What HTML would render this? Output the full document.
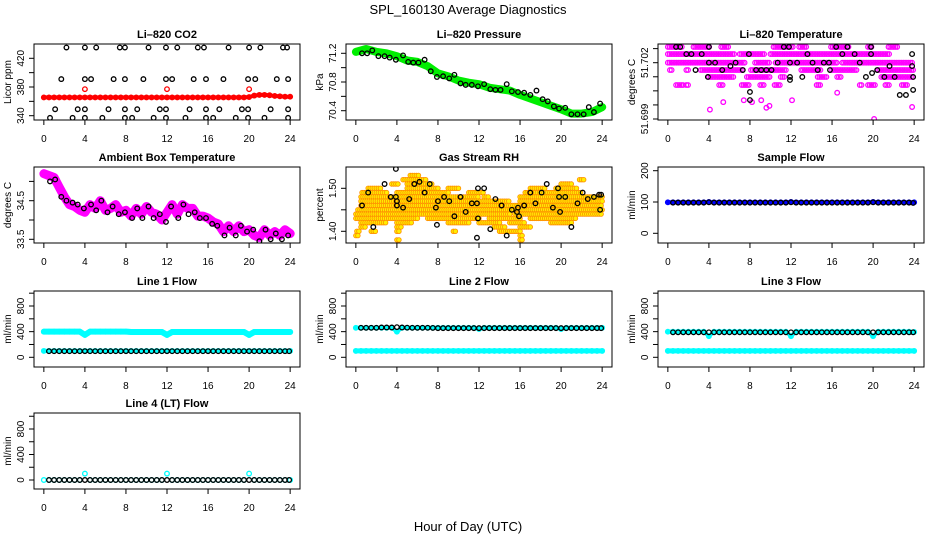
<!DOCTYPE html>
<html><head><meta charset="utf-8"><style>
html,body{margin:0;padding:0;background:#fff;}
svg{display:block;font-family:"Liberation Sans",sans-serif;}
</style></head><body>
<svg id="c" width="936" height="540" viewBox="0 0 936 540">
<text x="468" y="14" text-anchor="middle" font-size="13">SPL_160130  Average Diagnostics</text>
<text x="468" y="531" text-anchor="middle" font-size="13">Hour of Day (UTC)</text>
</svg>
<script>
// ---------- data ----------
const halfHours = [0,0.5,1,1.5,2,2.5,3,3.5,4,4.5,5,5.5,6,6.5,7,7.5,8,8.5,9,9.5,10,10.5,11,11.5,12,12.5,13,13.5,14,14.5,15,15.5,16,16.5,17,17.5,18,18.5,19,19.5,20,20.5,21,21.5,22,22.5,23,23.5,24];
const blackHours = [0.5,1,1.5,2,2.5,3,3.5,4,4.5,5,5.5,6,6.5,7,7.5,8,8.5,9,9.5,10,10.5,11,11.5,12,12.5,13,13.5,14,14.5,15,15.5,16,16.5,17,17.5,18,18.5,19,19.5,20,20.5,21,21.5,22,22.5,23,23.5,23.9];

// CO2
const co2Band = [365.5,365.5,365.5,365.5,365.5,365.5,365.5,365.5,365.5,365.5,365.5,365.5,365.5,365.5,365.5,365.5,365.5,365.5,365.5,365.5,365.5,365.5,365.5,365.5,365.5,365.5,365.5,365.5,365.5,365.5,365.5,365.5,365.5,365.5,365.5,365.5,365.5,365.5,365.5,365.5,366,368,369,369,368.5,367.5,367,366.5,366.5];
const co2RedOutHours = [4,12,20];
const co2RedOutVals = [377,377,377];
const co2BlackHours = [2.2,4,5.1,7.4,7.9,10.2,11.9,13,15,15.6,18,20,21.1,23.3,23.7, 1.7,4,4.6,6.8,7.9,9.7,11.9,12.5,14.6,15.8,17.5,19.9,20.6,22.7,23.8, 1.1,3.3,4,6.3,7.9,9.1,11.3,11.9,14.2,15.8,17.1,19.3,19.9,22.1,23.8, 0.6,2.8,4,5.7,7.9,8.6,10.7,11.9,13.8,15.8,16.5,18.7,19.9,21.5,23.8];
const co2BlackVals = [435,435,435,435,435,435,435,435,435,435,435,435,435,435,435, 391,391,391,391,391,391,391,391,391,391,391,391,391,391,391, 349,349,349,349,349,349,349,349,349,349,349,349,349,349,349, 337,337,337,337,337,337,337,337,337,337,337,337,337,337,337];

// Pressure
const presBandHours = [0,1,2,3,4,5,6,7,8,9,10,11,12,13,14,15,16,17,18,19,20,21,22,23,24];
const presBand = [71.22,71.26,71.22,71.2,71.16,71.1,71.08,71.02,70.92,70.88,70.82,70.79,70.77,70.72,70.7,70.68,70.62,70.57,70.52,70.47,70.42,70.36,70.36,70.38,70.45];
const presBlackHours = [0.6,1.1,1.6,2.2,2.8,3.3,3.9,4.6,5.1,5.6,6.1,6.7,7.3,7.9,8.5,9.1,9.6,10.2,10.7,11.3,11.9,12.5,13.1,13.6,14.1,14.7,15.2,15.8,16.4,17.0,17.6,18.2,18.7,19.3,19.8,20.4,21.0,21.6,22.2,22.7,23.2,23.8];
const presBlackVals = [71.2,71.2,71.24,71.16,71.16,71.14,71.11,71.17,71.08,71.07,71.07,71.11,70.95,70.87,70.88,70.85,70.9,70.78,70.76,70.76,70.74,70.77,70.7,70.69,70.69,70.77,70.67,70.66,70.65,70.62,70.68,70.56,70.53,70.46,70.43,70.44,70.35,70.35,70.35,70.45,70.38,70.5];

// Li-820 temperature (magenta runs: start hour, end hour, value)
const tempRunStart = [0,2.5,5.2,10.3,12.8,15.9,19.5,21.5, 0,7,10, 0,8.5,10.5,17, 0.2,1.8,3.2,8.1,13,16,20.5, 4,7.7,11,14.6,16.5,20.8, 0.8,1.8,5,7.2,9,10.4,14.5,18.7,19.5,21.2,22.8];
const tempRunEnd   = [1.4,4.1,5.9,12.3,13.6,17.6,19.9,22.5, 6.5,9.5,21.7, 7.5,10,16.5,23.8, 0.5,2,7.4,11.5,15,18.5,24, 6.5,10,11.5,15.5,17,24, 1.5,2,5.5,8,9.5,11,15,19,20.3,21.6,23.4];
const tempRunVal   = [51.70284,51.70284,51.70284,51.70284,51.70284,51.70284,51.70284,51.70284, 51.70246,51.70246,51.70246, 51.702,51.702,51.702,51.702, 51.70161,51.70161,51.70161,51.70161,51.70161,51.70161,51.70161, 51.70124,51.70124,51.70124,51.70124,51.70124,51.70124, 51.70081,51.70081,51.70081,51.70081,51.70081,51.70081,51.70081,51.70081,51.70081,51.70081,51.70081];
const tempMagHours = [4.1,5.4,7.4,9.6,9.9,20.1,23.8,16.5,12.1,8.2,9.1];
const tempMagVals = [51.6995,51.6999,51.7,51.6996,51.6997,51.699,51.69964,51.7004,51.7,51.6999,51.7];
const tempBlackHours = [0.8,1.2,1.8,2.3,2.7,3.3,3.9,4,4,4.6,5.3,6.1,6.6,7.3,7.9,8,8,8.6,9.1,9.6,10.1,10.7,11.3,11.8,11.9,11.9,11.9,12.6,13.1,13.6,14.1,14.6,15.2,15.7,15.8,16.4,17,17.5,18.2,18.7,19.3,19.8,19.8,19.9,20.4,21.1,21.6,22.1,22.6,23.2,23.8,23.8,23.9,23.9];
const tempBlackVals = [51.70284,51.70284,51.70246,51.70246,51.70161,51.70246,51.70124,51.70284,51.702,51.702,51.70161,51.70182,51.702,51.70161,51.70246,51.70044,51.70001,51.70161,51.70161,51.70161,51.70161,51.702,51.70284,51.70284,51.70124,51.70108,51.702,51.702,51.70124,51.70246,51.702,51.70161,51.702,51.702,51.70161,51.70284,51.70246,51.70284,51.70246,51.702,51.70124,51.70284,51.70246,51.70145,51.70161,51.70124,51.70182,51.70124,51.70028,51.70028,51.70246,51.70182,51.70124,51.70055];

// Ambient box temperature
const ambBand = [35.2,35.15,35.1,34.85,34.6,34.4,34.35,34.25,34.2,34.4,34.3,34.5,34.25,34.3,34.4,34.2,34.25,34.1,34.3,34.15,34.35,34.2,34.15,34.0,34.2,34.4,34.15,34.4,34.3,34.3,34.1,34.1,34.05,33.95,33.9,33.7,33.85,33.7,33.85,33.7,33.75,33.6,33.55,33.75,33.6,33.7,33.6,33.75,33.65];
const ambBlackHours = [0.6,1.1,1.7,2.2,2.8,3.3,3.9,4.6,5.1,5.6,6.2,6.7,7.3,7.9,8.6,9.1,9.6,10.2,10.7,11.3,11.9,12.4,13.1,13.6,14.1,14.7,15.2,15.8,16.4,16.9,17.6,18.1,18.7,19.2,19.8,20.4,21,21.6,22.1,22.6,23.2,23.8];
const ambBlackVals = [35.0,35.05,34.6,34.5,34.45,34.4,34.3,34.4,34.25,34.5,34.2,34.35,34.15,34.2,34.05,34.3,34.05,34.35,34.05,34.15,33.95,34.35,34.05,34.4,34.15,34.2,34.05,34.05,33.9,33.85,33.6,33.8,33.6,33.85,33.7,33.75,33.45,33.75,33.5,33.65,33.5,33.6];

// Gas stream RH (orange runs)
const rhRunStart = [5.3, 4.6,21.8, 3.5,5,20, 1.2,5,9,17,19.5, 0.6,4,11,16.5, 0.5,12.5,16, 0.5,16, 0.5, 0.2, 0,15.5, 0,7,13,17, 0.5,4,9,12,15,19, 0.5,4,13.5,16, 0.1,1.5,4,9.5,14, 0,16, 4,16];
const rhRunEnd   = [6.2, 6.8,22.3, 4.2,7.5,21, 2.5,8,10,18.5,21.5, 3,9,12.5,22, 12,13,24, 15,24, 24, 24, 15,24, 6,12,16,21.5, 3,5.5,11,14,16.5,21, 1,4.5,14.5,17, 0.3,2,4.2,9.8,16, 0.2,16.3, 4.3,16.3];
const rhRunVal   = [1.53, 1.52,1.52, 1.51,1.51,1.51, 1.50,1.50,1.50,1.50,1.50, 1.49,1.49,1.49,1.49, 1.48,1.48,1.48, 1.47,1.47, 1.46, 1.45, 1.44,1.44, 1.43,1.43,1.43,1.43, 1.42,1.42,1.42,1.42,1.42,1.42, 1.41,1.41,1.41,1.41, 1.40,1.40,1.40,1.40,1.40, 1.39,1.39, 1.38,1.38];
const rhBlackHours = [0.6,1.2,1.7,2.8,3.4,3.9,3.9,4,4,4.6,5.2,5.7,6.2,6.7,7.2,7.8,7.9,8,8.6,9.1,9.6,10.2,10.7,11.3,11.8,11.9,11.9,11.8,12.5,13.1,13.6,14.2,14.7,15.2,15.7,15.8,15.9,16.4,17.0,17.5,18.1,18.6,19.2,19.7,19.8,19.9,20.4,21.0,21.6,22.1,22.6,23.2,23.7,23.8,23.9];
const rhBlackVals = [1.46,1.49,1.41,1.51,1.48,1.545,1.48,1.47,1.46,1.455,1.475,1.51,1.515,1.49,1.51,1.455,1.415,1.47,1.48,1.47,1.435,1.48,1.445,1.465,1.465,1.43,1.50,1.385,1.50,1.405,1.475,1.46,1.39,1.45,1.445,1.455,1.435,1.46,1.49,1.465,1.49,1.51,1.455,1.50,1.48,1.445,1.48,1.41,1.465,1.49,1.475,1.48,1.485,1.45,1.485];

// Sample flow
const sampleBand = [99,99,99,99,99,99,99,99,100,99,99,99,99,99,99,99,99,99,99,99,99,99,99,99,100,99,99,99,99,99,99,99,99,99,99,99,99,99,99,99,100,99,99,99,99,99,99,99,99];
const sampleBlack = [98,98,98,98,98,98,98,99,98,98,98,98,98,98,98,98,98,98,98,98,98,98,98,99,98,98,98,98,98,98,98,98,98,98,98,98,98,98,98,99,98,98,98,98,98,98,98,97];

// Line flows (cyan bands on halfHours, black on blackHours)
const line1CyanHi = [400,400,400,400,400,400,400,400,350,400,400,400,400,400,400,400,400,395,395,395,395,395,395,395,350,395,395,395,395,395,395,395,395,395,395,395,395,395,395,395,350,395,395,395,395,395,395,395,395];
const line1CyanLo = [100,100,100,100,100,100,100,100,100,100,100,100,100,100,100,100,100,100,100,100,100,100,100,100,100,100,100,100,100,100,100,100,100,100,100,100,100,100,100,100,100,100,100,100,100,100,100,100,100];
const line1Black  = [95,95,95,95,95,95,95,96,95,95,95,95,95,95,95,96,95,95,95,95,95,95,95,96,95,95,95,95,95,95,95,96,95,95,95,95,95,95,95,96,95,95,95,95,95,95,95,95];
const line2CyanHi = [460,460,460,460,460,460,460,460,400,460,460,460,460,460,460,460,460,460,460,460,460,460,460,460,440,460,460,460,460,460,460,460,460,460,460,460,460,460,460,460,440,460,460,460,460,460,460,460,460];
const line2CyanLo = [100,100,100,100,100,100,100,100,100,100,100,100,100,100,100,100,100,100,100,100,100,100,100,100,100,100,100,100,100,100,100,100,100,100,100,100,100,100,100,100,100,100,100,100,100,100,100,100,100];
const line2Black  = [460,460,460,460,465,465,465,470,465,462,460,460,460,460,458,455,455,455,455,455,455,455,455,455,455,455,455,455,455,455,455,455,455,455,455,455,455,455,455,455,455,455,455,455,455,455,455,455];
const line3CyanHi = [400,400,400,400,400,400,400,400,330,400,400,400,400,400,400,400,400,400,400,400,400,400,400,400,330,400,400,400,400,400,400,400,400,400,400,400,400,400,400,400,330,400,400,400,400,400,400,400,395];
const line3CyanLo = [100,100,100,100,100,100,100,100,100,100,100,100,100,100,100,100,100,100,100,100,100,100,100,100,100,100,100,100,100,100,100,100,100,100,100,100,100,100,100,100,100,100,100,100,100,100,100,100,100];
const line3Black  = [390,390,390,390,390,390,390,390,390,390,390,390,390,390,390,390,390,390,390,390,390,390,390,390,390,390,390,390,390,390,390,390,390,390,390,390,390,390,390,390,390,390,390,390,390,390,390,390];
const line4Cyan   = [0,0,0,0,0,0,0,0,100,0,0,0,0,0,0,0,0,0,0,0,0,0,0,0,100,0,0,0,0,0,0,0,0,0,0,0,0,0,0,0,100,0,0,0,0,0,0,0,0];
const line4Black  = [0,0,0,0,0,0,0,0,0,0,0,0,0,0,0,0,0,0,0,0,0,0,0,0,0,0,0,0,0,0,0,0,0,0,0,0,0,0,0,0,0,0,0,0,0,0,0,0];

const xTicks = [0,4,8,12,16,20,24];

// ---------- drawing ----------
const svg = document.getElementById('c');
const NS = 'http://www.w3.org/2000/svg';
function mk(tag, attrs, parent){
  const e = document.createElementNS(NS, tag);
  for (const k in attrs) e.setAttribute(k, attrs[k]);
  (parent||svg).appendChild(e);
  return e;
}
const colL = [34,346,658], rowT = [44,167,291,413], W = 266, H = 76;
const R = 2.3, SW = 1.3;

function panel(cfg){
  const L = colL[cfg.col], T = rowT[cfg.row];
  const g = mk('g', {});
  
  
  const x = h => L + 9.85 + h * (W - 19.7) / 24;
  const y = v => cfg.p0 + (v - cfg.v0) * (cfg.p1 - cfg.p0) / (cfg.v1 - cfg.v0);
  const t = mk('text', {x: L + W/2, y: T - 6, 'text-anchor':'middle', 'font-size':11, 'font-weight':'bold'}, g);
  t.textContent = cfg.title;
  
  
  const cid = 'clip' + cfg.col + cfg.row;
  const cp = mk('clipPath', {id: cid}, g);
  mk('rect', {x: L, y: T, width: W, height: H}, cp);
  const plot = mk('g', {'clip-path': 'url(#' + cid + ')'}, g);
  
  
  cfg.draw(plot, x, y);
  const box = mk('rect', {x: L, y: T, width: W, height: H, fill: 'none', stroke: '#000', 'stroke-width': 1}, g);
  
  
  const B = T + H;
  mk('line', {x1: x(0), x2: x(24), y1: B, y2: B, stroke:'#000'}, g);
  xTicks.forEach(h => {
    mk('line', {x1: x(h), x2: x(h), y1: B, y2: B + 5, stroke:'#000'}, g);
    const lt = mk('text', {x: x(h), y: B + 22, 'text-anchor':'middle', 'font-size':10}, g);
    lt.textContent = h;
    
    
  });
  const ys = cfg.ticks.map(y);
  mk('line', {x1: L, x2: L, y1: Math.min(...ys), y2: Math.max(...ys), stroke:'#000'}, g);
  cfg.ticks.forEach((v, i) => {
    mk('line', {x1: L - 5, x2: L, y1: y(v), y2: y(v), stroke:'#000'}, g);
    if (cfg.labels[i]) {
      const yt = mk('text', {x: 0, y: 0, 'text-anchor':'middle', 'font-size':10,
        transform: 'translate(' + (L - 10) + ',' + y(v) + ') rotate(-90)'}, g);
      yt.textContent = cfg.labels[i];
      
      
    }
  });
  const yl = mk('text', {x: 0, y: 0, 'text-anchor':'middle', 'font-size':10,
    transform: 'translate(' + (L - 23) + ',' + (T + H/2) + ') rotate(-90)'}, g);
  yl.textContent = cfg.ylab;
  
  
}

function band(p, x, y, hs, vs, color, w, name){
  const d = hs.map((h, i) => (i ? 'L' : 'M') + x(h).toFixed(1) + ',' + y(vs[i]).toFixed(1)).join('');
  const pa = mk('path', {d: d, fill:'none', stroke: color, 'stroke-width': w, 'stroke-linejoin':'round', 'stroke-linecap':'round'}, p);
  
  
  hs.forEach((h, i) => {
    const c = mk('circle', {cx: x(h), cy: y(vs[i]), r: R, fill:'none', stroke: color, 'stroke-width': SW}, p);
    
    
  });
}
function pts(p, x, y, hs, vs, color, name, fill){
  hs.forEach((h, i) => {
    const c = mk('circle', {cx: x(h), cy: y(vs[i]), r: R, fill: fill || 'none', stroke: color, 'stroke-width': SW}, p);
    
    
  });
}
function runs(p, x, y, st, en, vl, color, fill, name, step, sw){
  st.forEach((s, i) => {
    for (let h = s; h <= en[i] + 1e-9; h += step) {
      const c = mk('circle', {cx: x(h), cy: y(vl[i]), r: R, fill: fill, stroke: color, 'stroke-width': sw}, p);
      
      
    }
  });
}

const flowTicks = [0,200,400,600,800,1000], flowLabels = ['0','','400','','800',''];

panel({name:'panel-co2', col:0,row:0,title:'Li\u2013820 CO2',ylab:'Licor ppm',v0:340,p0:115.7,v1:420,p1:58.3,
  ticks:[340,360,380,400,420],labels:['340','','380','','420'],
  draw:(p,x,y)=>{ band(p,x,y,halfHours,co2Band,'#ff0000',4,'co2-band');
    pts(p,x,y,co2RedOutHours,co2RedOutVals,'#ff0000','co2-red-outlier');
    pts(p,x,y,co2BlackHours,co2BlackVals,'#000','co2-black-point'); }});

panel({name:'panel-pressure', col:1,row:0,title:'Li\u2013820 Pressure',ylab:'kPa',v0:70.4,p0:110.7,v1:71.2,p1:53.3,
  ticks:[70.4,70.6,70.8,71.0,71.2],labels:['70.4','','70.8','','71.2'],
  draw:(p,x,y)=>{ band(p,x,y,presBandHours,presBand,'#00ee00',8,'pressure-band');
    pts(p,x,y,presBlackHours,presBlackVals,'#000','pressure-black-point'); }});

panel({name:'panel-li820-temperature', col:2,row:0,title:'Li\u2013820 Temperature',ylab:'degrees C',v0:51.699,p0:119,v1:51.702,p1:62.7,
  ticks:[51.699,51.69975,51.7005,51.70125,51.702,51.70275],labels:['51.699','','','','51.702',''],
  draw:(p,x,y)=>{ runs(p,x,y,tempRunStart,tempRunEnd,tempRunVal,'#ff00ff','none','temp-magenta-point',0.17,1.2);
    pts(p,x,y,tempMagHours,tempMagVals,'#ff00ff','temp-magenta-point');
    pts(p,x,y,tempBlackHours,tempBlackVals,'#000','temp-black-point'); }});

panel({name:'panel-ambient-temperature', col:0,row:1,title:'Ambient Box Temperature',ylab:'degrees C',v0:33.5,p0:239.3,v1:34.5,p1:200.7,
  ticks:[33.5,34,34.5,35],labels:['33.5','','34.5',''],
  draw:(p,x,y)=>{ band(p,x,y,halfHours,ambBand,'#ff00ff',9,'ambient-band');
    pts(p,x,y,ambBlackHours,ambBlackVals,'#000','ambient-black-point'); }});

panel({name:'panel-gas-rh', col:1,row:1,title:'Gas Stream RH',ylab:'percent',v0:1.40,p0:231.3,v1:1.50,p1:188.3,
  ticks:[1.40,1.45,1.50],labels:['1.40','','1.50'],
  draw:(p,x,y)=>{ runs(p,x,y,rhRunStart,rhRunEnd,rhRunVal,'#ff8c00','#ffee00','rh-orange-point',0.2,0.8);
    pts(p,x,y,rhBlackHours,rhBlackVals,'#000','rh-black-point'); }});

panel({name:'panel-sample-flow', col:2,row:1,title:'Sample Flow',ylab:'ml/min',v0:0,p0:233.3,v1:200,p1:170.7,
  ticks:[0,100,200],labels:['0','100','200'],
  draw:(p,x,y)=>{ band(p,x,y,halfHours,sampleBand,'#0000ff',4,'sample-band');
    pts(p,x,y,blackHours,sampleBlack,'#000','sample-black-point'); }});

panel({name:'panel-line1-flow', col:0,row:2,title:'Line 1 Flow',ylab:'ml/min',v0:0,p0:357.3,v1:800,p1:306,
  ticks:flowTicks,labels:flowLabels,
  draw:(p,x,y)=>{ band(p,x,y,halfHours,line1CyanHi,'#00ffff',6,'line1-cyan-high');
    band(p,x,y,halfHours,line1CyanLo,'#00ffff',4,'line1-cyan-low');
    pts(p,x,y,blackHours,line1Black,'#000','line1-black-point'); }});

panel({name:'panel-line2-flow', col:1,row:2,title:'Line 2 Flow',ylab:'ml/min',v0:0,p0:357.3,v1:800,p1:306,
  ticks:flowTicks,labels:flowLabels,
  draw:(p,x,y)=>{ band(p,x,y,halfHours,line2CyanHi,'#00ffff',4,'line2-cyan-high');
    band(p,x,y,halfHours,line2CyanLo,'#00ffff',5,'line2-cyan-low');
    pts(p,x,y,blackHours,line2Black,'#000','line2-black-point'); }});

panel({name:'panel-line3-flow', col:2,row:2,title:'Line 3 Flow',ylab:'ml/min',v0:0,p0:357.3,v1:800,p1:306,
  ticks:flowTicks,labels:flowLabels,
  draw:(p,x,y)=>{ band(p,x,y,halfHours,line3CyanHi,'#00ffff',4,'line3-cyan-high');
    band(p,x,y,halfHours,line3CyanLo,'#00ffff',5,'line3-cyan-low');
    pts(p,x,y,blackHours,line3Black,'#000','line3-black-point'); }});

panel({name:'panel-line4-flow', col:0,row:3,title:'Line 4 (LT) Flow',ylab:'ml/min',v0:0,p0:480,v1:800,p1:429,
  ticks:flowTicks,labels:flowLabels,
  draw:(p,x,y)=>{ pts(p,x,y,halfHours,line4Cyan,'#00ffff','line4-cyan-point');
    pts(p,x,y,blackHours,line4Black,'#000','line4-black-point'); }});
</script>
</body></html>
